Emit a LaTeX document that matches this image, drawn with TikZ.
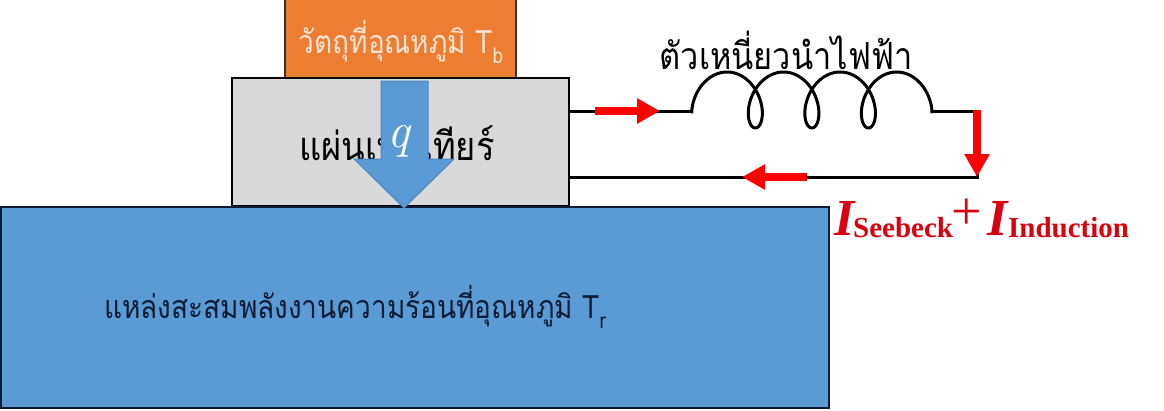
\documentclass[tikz,border=0pt]{standalone}
\usepackage{fontspec}
\setmainfont{Liberation Serif}
\newfontfamily\thai[Script=Thai]{Loma}
\newfontfamily\lmfont{Latin Modern Roman}
\usetikzlibrary{arrows.meta}
\definecolor{orangeF}{HTML}{ED7D31}
\definecolor{peach}{HTML}{FBE3D5}
\definecolor{grayF}{HTML}{D9D9D9}
\definecolor{blueF}{HTML}{5B9BD5}
\definecolor{blueE}{HTML}{4A88C4}
\definecolor{navy}{HTML}{0E1B33}
\definecolor{lblred}{HTML}{D9000F}
\newcommand{\tallthai}[1]{\scalebox{1}[1.15]{#1}}
\begin{document}
\begin{tikzpicture}[x=1pt,y=-1pt,
  rect/.style={draw, line width=2pt, inner sep=0pt, outer sep=0pt},
  thaitext/.style={font=\thai\fontsize{#1}{#1}\selectfont, inner sep=0pt},
  wire/.style={line width=3pt, black},
  flow/.style={line width=7.5pt, red, -{Triangle[width=24pt,length=23pt]}},
  lbl/.style={text=lblred, inner sep=0pt}]
\useasboundingbox (0,0) rectangle (1164,410);
% boxes
\node[rect, fill=orangeF, draw=black!80, minimum width=231pt, minimum height=84pt, anchor=south west] (obj) at (285,78) {};
\node[rect, fill=grayF, minimum width=337pt, minimum height=128pt, anchor=north west] (plate) at (232,78) {};
\node[rect, fill=blueF, draw=navy, minimum width=828pt, minimum height=201pt, anchor=north west] (res) at (1,207) {};
% texts
\node[thaitext=28, text=peach] (objtxt) at (401,42) {\tallthai{วัตถุที่อุณหภูมิ T\raisebox{-0.3em}{\fontsize{19}{19}\selectfont b}}};
\node[thaitext=34.5] (platetxt) at (397,143) {\tallthai{แผ่นเพลเทียร์}};
\node[thaitext=28, text=navy] (restxt) at (355,307) {\tallthai{แหล่งสะสมพลังงานความร้อนที่อุณหภูมิ T\raisebox{-0.3em}{\fontsize{19}{19}\selectfont r}}};
\node[thaitext=32.5] (coiltxt) at (786,50) {\tallthai{ตัวเหนี่ยวนำไฟฟ้า}};
% heat flow arrow
\filldraw[fill=blueF, draw=blueE, line width=1pt] (381,81) -- (428,81) -- (428,159) -- (454,159) -- (404,208) -- (354,159) -- (381,159) -- cycle;
\node[text=white, font=\lmfont\itshape\fontsize{50}{50}\selectfont, inner sep=0pt] (q) at (399,141) {q};
% circuit
\coordinate (c1) at (691.7,111);
\coordinate (c2) at (932,111);
\coordinate (rt) at (977.7,111);
\coordinate (rb) at (977.7,177);
\draw[wire] (plate.east |- c1) -- (c1);
\draw[wire, line join=round] plot[domain=-0.4934:22.485, samples=400, variable=\t] ({712.9 + 9*\t - 19*cos(\t r)}, {100 - 28*sin(\t r)});
\draw[wire] (c2) -- (rt) -- (rb) -- (plate.east |- rb);
% current arrows
\coordinate (a1s) at (595,111); \coordinate (a1e) at (660,111);
\coordinate (a2s) at (977,110); \coordinate (a2e) at (977,177);
\coordinate (a3s) at (807,177); \coordinate (a3e) at (742,177);
\draw[flow] (a1s) -- (a1e);
\draw[flow] (a2s) -- (a2e);
\draw[flow] (a3s) -- (a3e);
% label
\node[lbl, font=\fontsize{52}{52}\selectfont\bfseries\itshape, anchor=base west] (I1) at (834,235) {I};
\node[lbl, font=\fontsize{29}{29}\selectfont\bfseries, anchor=base west] (sub1) at (853,237) {Seebeck};
\node[lbl, font=\fontsize{54}{54}\selectfont] (plus) at (967,214) {+};
\node[lbl, font=\fontsize{52}{52}\selectfont\bfseries\itshape, anchor=base west] (I2) at (987,235) {I};
\node[lbl, font=\fontsize{29}{29}\selectfont\bfseries, anchor=base west] (sub2) at (1008,237) {Induction};
\end{tikzpicture}
\end{document}
